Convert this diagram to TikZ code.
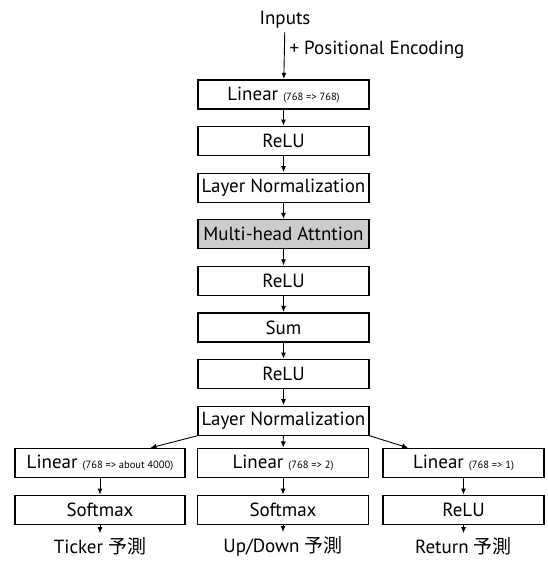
\documentclass[tikz,border=0pt]{standalone}
\usepackage{fontspec}
\setmainfont{PT Sans}
\newfontfamily\jpfont{Noto Sans CJK JP}
\usetikzlibrary{arrows.meta,positioning}
\newcommand{\dims}[1]{{\fontsize{10.5}{12}\selectfont(#1)}}

\begin{document}
\begin{tikzpicture}[x=1pt,y=1pt,>={Latex[length=6pt,width=5pt]},
    layer/.style={rectangle,draw,line width=1.1pt,minimum width=171pt,
      minimum height=29pt,inner sep=0pt,font=\fontsize{19}{22}\selectfont},
    label/.style={font=\fontsize{19}{22}\selectfont},
    flow/.style={->,line width=0.9pt,shorten >=0.5pt}]
  \useasboundingbox (0,0) rectangle (547,-561);
  \node [label] (in) at (285,-20) {Inputs};
  \node [layer] (lin) at (283.5,-94.5) {Linear \dims{768 => 768}};
  \node [label,anchor=west] (pe) at (286,-50) {+ Positional Encoding};
  \node [layer] (relu1) [below=16.5pt of lin] {ReLU};
  \node [layer] (ln1) [below=16.5pt of relu1] {Layer Normalization};
  \node [layer,fill=gray!40] (mha) [below=16.5pt of ln1] {Multi-head Attntion};
  \node [layer] (relu2) [below=16.5pt of mha] {ReLU};
  \node [layer] (sum) [below=16.5pt of relu2] {Sum};
  \node [layer] (relu3) [below=16.5pt of sum] {ReLU};
  \node [layer] (ln2) [below=16.5pt of relu3] {Layer Normalization};
  % three heads
  \node [layer,minimum width=170pt] (tlin) at (100,-463)
  {Linear \dims{768 => about 4000}};
  \node [layer] (ulin) at (283,-463) {Linear \dims{768 => 2}};
  \node [layer,minimum width=161pt] (rlin) at (463.5,-463)
  {Linear \dims{768 => 1}};
  \node [layer,minimum width=170pt] (tsoft) [below=17pt of tlin] {Softmax};
  \node [layer] (usoft) [below=17pt of ulin] {Softmax};
  \node [layer,minimum width=161pt] (rrelu) [below=17pt of rlin] {ReLU};
  \node [label] (tout) at (100,-546) {Ticker {\jpfont 予測}};
  \node [label] (uout) at (283,-546) {Up/Down {\jpfont 予測}};
  \node [label] (rout) at (463.5,-546) {Return {\jpfont 予測}};
  \draw [flow] (in) -- (lin);
  \foreach \a/\b in {lin/relu1,relu1/ln1,ln1/mha,mha/relu2,relu2/sum,
    sum/relu3,relu3/ln2,ln2/ulin,tlin/tsoft,ulin/usoft,rlin/rrelu,
    tsoft/tout,usoft/uout,rrelu/rout}
  \draw [flow] (\a) -- (\b);
  \draw [flow] (ln2.south west) -- ([xshift=50pt]tlin.north);
  \draw [flow] (ln2.south east) -- ([xshift=-55pt]rlin.north);
\end{tikzpicture}
\end{document}
